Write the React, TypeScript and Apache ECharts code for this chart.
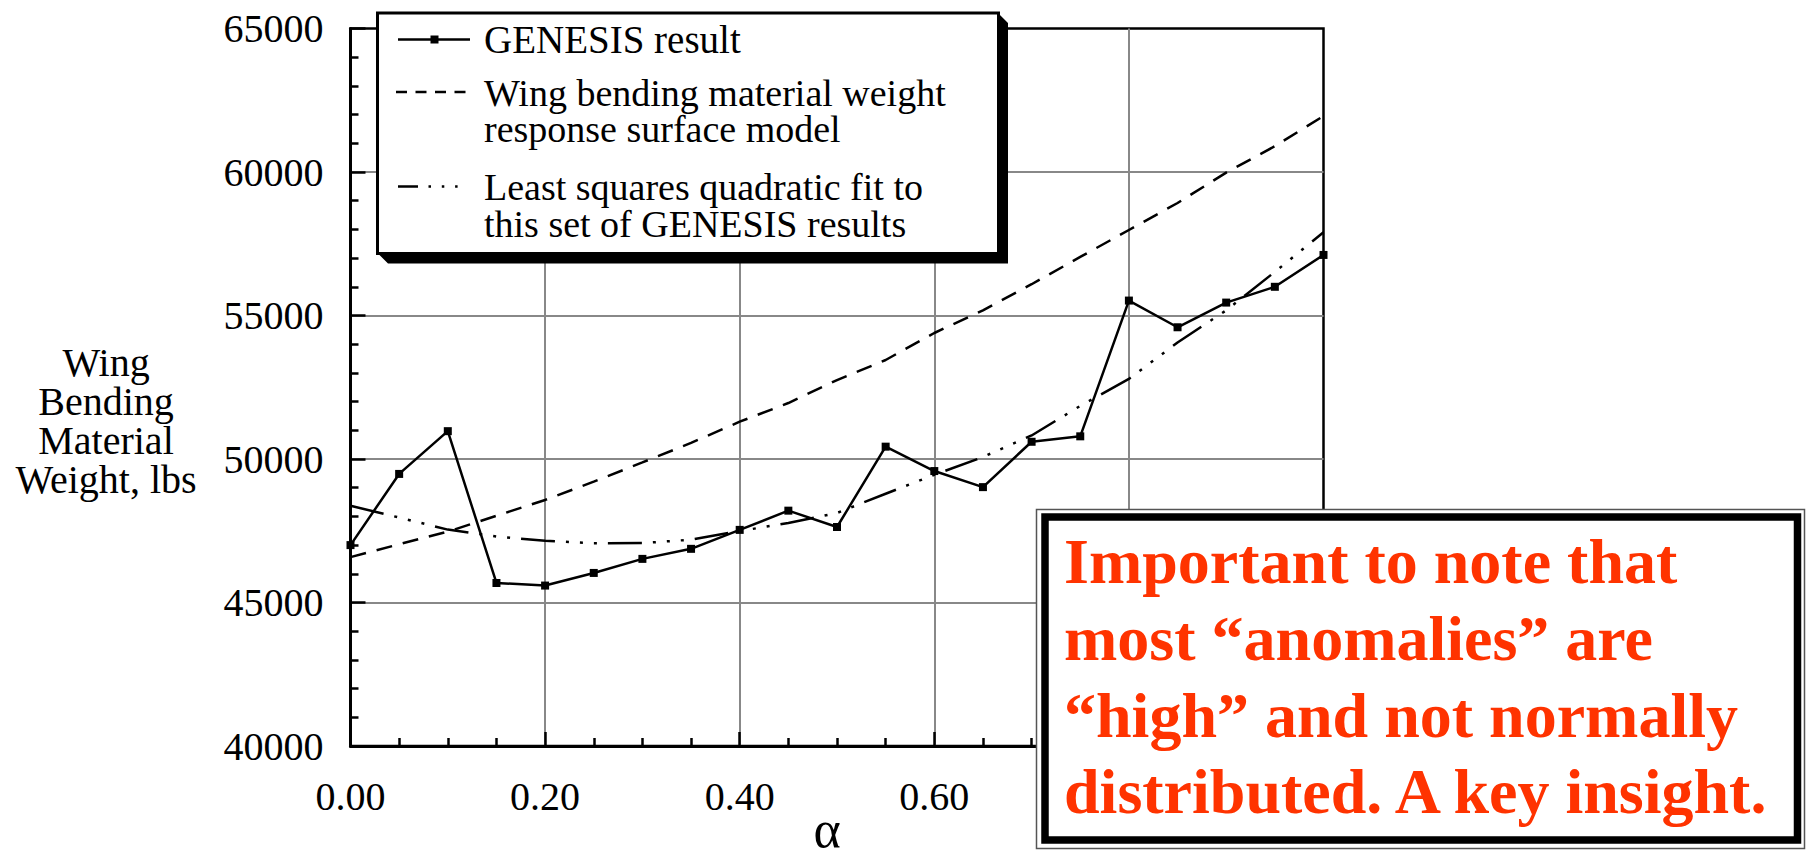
import React, { useEffect, useRef } from 'react';
import * as echarts from 'echarts';

// ---- data ----
const alpha = [0, 0.05, 0.1, 0.15, 0.2, 0.25, 0.3, 0.35, 0.4, 0.45, 0.5, 0.55, 0.6, 0.65, 0.7, 0.75, 0.8, 0.85, 0.9, 0.95, 1.0];
const genesis = [47000, 49480, 50970, 45680, 45590, 46030, 46520, 46870, 47530, 48200, 47630, 50430, 49580, 49020, 50600, 50790, 55520, 54590, 55450, 56000, 57110];
const responseSurface = [46580, 47030, 47470, 48020, 48573, 49211, 49880, 50560, 51300, 51950, 52750, 53450, 54390, 55180, 56090, 57040, 57980, 58920, 59980, 60900, 61950];
const quadraticFit = [48370, 47960, 47540, 47300, 47150, 47065, 47070, 47190, 47490, 47770, 48120, 48790, 49450, 50070, 50820, 51850, 52790, 54060, 55180, 56520, 57900];

// x tick labels visible in the reference (0.80 and 1.00 are hidden behind the note box)
const visibleXTicks = [0, 0.2, 0.4, 0.6];

const seriesNames = [
  'GENESIS result',
  'Wing bending material weight\nresponse surface model',
  'Least squares quadratic fit to\nthis set of GENESIS results',
];
const yAxisTitle = 'Wing\nBending\nMaterial\nWeight, lbs';
const xAxisTitle = 'α';
const noteText = 'Important to note that\nmost “anomalies” are\n“high” and not normally\ndistributed. A key insight.';

const SERIF = "'Liberation Serif', 'Times New Roman', serif";

function buildOption(): echarts.EChartsCoreOption {
  const pairs = (ys: number[]) => alpha.map((a, i) => [a, ys[i]]);
  return {
    animation: false,
    backgroundColor: '#fff',
    grid: {
      left: 350.5,
      top: 28.5,
      right: 482.5,
      bottom: 111,
      show: true,
      borderColor: '#000',
      borderWidth: 2.5,
      backgroundColor: 'transparent',
    },
    xAxis: {
      type: 'value',
      min: 0,
      max: 1,
      interval: 0.2,
      axisLine: { show: true, onZero: false, lineStyle: { color: '#000', width: 3 } },
      axisTick: { show: true, inside: true, length: 14, lineStyle: { color: '#000', width: 2.5 } },
      minorTick: { show: true, splitNumber: 4, length: 8, lineStyle: { color: '#000', width: 2.5 } },
      splitLine: { show: true, showMinLine: false, showMaxLine: false, lineStyle: { color: '#888', width: 2 } },
      axisLabel: {
        margin: 30,
        fontFamily: SERIF,
        fontSize: 40,
        color: '#000',
        formatter: (v: number) =>
          visibleXTicks.some((t) => Math.abs(t - v) < 1e-9) ? v.toFixed(2) : '',
      },
    },
    yAxis: {
      type: 'value',
      min: 40000,
      max: 65000,
      interval: 5000,
      axisLine: { show: true, onZero: false, lineStyle: { color: '#000', width: 3 } },
      axisTick: { show: true, inside: true, length: 15, lineStyle: { color: '#000', width: 2.5 } },
      minorTick: { show: true, splitNumber: 5, length: 8, lineStyle: { color: '#000', width: 2.5 } },
      splitLine: { show: true, showMinLine: false, showMaxLine: false, lineStyle: { color: '#888', width: 2 } },
      axisLabel: {
        margin: 27,
        fontFamily: SERIF,
        fontSize: 40,
        color: '#000',
        padding: [0, 0, 7, 0],
        formatter: (v: number) => String(v),
      },
    },
    series: [
      {
        type: 'line',
        name: seriesNames[0],
        data: pairs(genesis),
        symbol: 'rect',
        symbolSize: 8,
        showAllSymbol: true,
        clip: false,
        lineStyle: { color: '#000', width: 2.5 },
        itemStyle: { color: '#000' },
        z: 5,
      },
      {
        type: 'line',
        name: seriesNames[1],
        data: pairs(responseSurface),
        symbol: 'none',
        lineStyle: { color: '#000', width: 2.5, type: [16, 11] },
        z: 4,
      },
      {
        type: 'line',
        name: seriesNames[2],
        data: pairs(quadraticFit),
        symbol: 'none',
        lineStyle: { color: '#000', width: 2.5, type: [34, 11, 3, 11, 3, 11, 3, 11] },
        z: 4,
      },
    ],
    graphic: [
      // y axis title
      {
        type: 'text',
        x: 106,
        y: 420.5,
        z: 50,
        style: {
          text: yAxisTitle,
          fontFamily: SERIF,
          fontSize: 40,
          lineHeight: 39,
          fill: '#000',
          align: 'center',
          verticalAlign: 'middle',
        },
      },
      // x axis title
      {
        type: 'text',
        x: 827,
        y: 829,
        z: 50,
        style: {
          text: xAxisTitle,
          fontFamily: SERIF,
          fontSize: 52,
          fill: '#000',
          align: 'center',
          verticalAlign: 'middle',
        },
      },
      // legend shadow
      {
        type: 'polygon',
        z: 100,
        shape: { points: [[998, 13], [1008, 23], [1008, 263.5], [388, 263.5], [378, 253.5], [998, 253.5]] },
        style: { fill: '#000' },
      },
      // legend box
      {
        type: 'rect',
        z: 101,
        shape: { x: 377.5, y: 13, width: 621, height: 240.5 },
        style: { fill: '#fff', stroke: '#000', lineWidth: 3 },
      },
      // legend samples
      {
        type: 'line',
        z: 102,
        shape: { x1: 398, y1: 39.5, x2: 470, y2: 39.5 },
        style: { stroke: '#000', lineWidth: 2.5 },
      },
      {
        type: 'rect',
        z: 103,
        shape: { x: 430.5, y: 35.5, width: 8, height: 8 },
        style: { fill: '#000' },
      },
      {
        type: 'line',
        z: 102,
        shape: { x1: 396, y1: 92, x2: 466, y2: 92 },
        style: { stroke: '#000', lineWidth: 2.5, lineDash: [11, 8.5] },
      },
      {
        type: 'line',
        z: 102,
        shape: { x1: 398, y1: 186.5, x2: 460, y2: 186.5 },
        style: { stroke: '#000', lineWidth: 2.5, lineDash: [20, 10.5, 2.5, 10.8, 2.5, 10.8, 2.5, 100] },
      },
      // legend texts
      {
        type: 'text',
        x: 484,
        y: 39.5,
        z: 102,
        style: { text: seriesNames[0], fontFamily: SERIF, fontSize: 39, fill: '#000', align: 'left', verticalAlign: 'middle' },
      },
      {
        type: 'text',
        x: 484,
        y: 74.5,
        z: 102,
        style: { text: seriesNames[1], fontFamily: SERIF, fontSize: 38, lineHeight: 36, fill: '#000', align: 'left', verticalAlign: 'top' },
      },
      {
        type: 'text',
        x: 484,
        y: 168,
        z: 102,
        style: { text: seriesNames[2], fontFamily: SERIF, fontSize: 38, lineHeight: 37, fill: '#000', align: 'left', verticalAlign: 'top' },
      },
      // callout box
      {
        type: 'rect',
        z: 110,
        shape: { x: 1036.5, y: 509.5, width: 768, height: 339 },
        style: { fill: '#fff', stroke: '#555', lineWidth: 1.5 },
      },
      {
        type: 'rect',
        z: 111,
        shape: { x: 1045, y: 517, width: 752.5, height: 323 },
        style: { fill: 'none', stroke: '#000', lineWidth: 7.5 },
      },
      {
        type: 'text',
        x: 1064,
        y: 523.3,
        z: 112,
        style: {
          text: noteText,
          fontFamily: SERIF,
          fontWeight: 'bold',
          fontSize: 64,
          lineHeight: 76.7,
          fill: '#ff3300',
          align: 'left',
          verticalAlign: 'top',
        },
      },
    ],
  };
}

export default function App() {
  const ref = useRef<HTMLDivElement>(null);
  useEffect(() => {
    if (!ref.current) return;
    const chart = echarts.init(ref.current, null, { renderer: 'svg' });
    chart.setOption(buildOption());
    return () => chart.dispose();
  }, []);
  return (
    <div
      ref={ref}
      style={{ position: 'fixed', left: 0, top: 0, width: 1806, height: 857, background: '#fff' }}
    />
  );
}
